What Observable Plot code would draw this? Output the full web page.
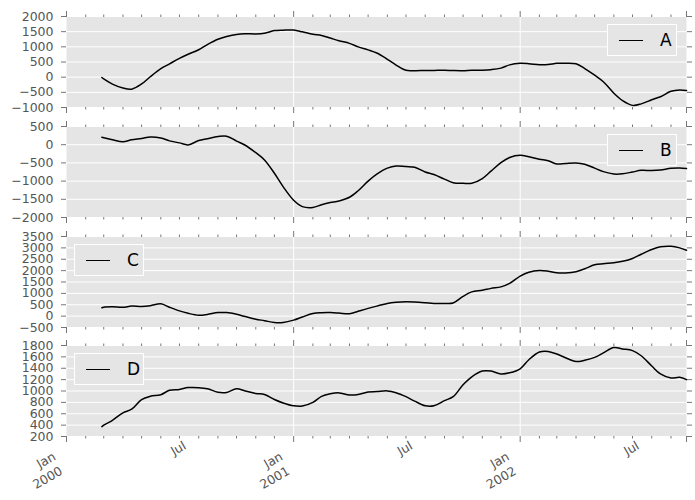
<!DOCTYPE html>
<html><head><meta charset="utf-8">
<script src="https://cdn.jsdelivr.net/npm/d3@7"></script>
<script src="https://cdn.jsdelivr.net/npm/@observablehq/plot@0.6"></script>
<style>
body{margin:0;background:white;}
#chart{position:relative;width:695px;height:500px;font-family:"DejaVu Sans",sans-serif;}
#chart svg{position:absolute;left:0;}
.legend{position:absolute;box-sizing:border-box;background:#E5E5E5;border:1px solid #fff;}
.legend .ln{position:absolute;height:0;border-top:1.5px solid #000;}
.legend .lb{position:absolute;font-size:17px;line-height:17px;color:#000;font-family:"DejaVu Sans",sans-serif;}
</style></head><body><div id="chart"></div>
<script>
const dates = ["2000-02-27","2000-03-01","2000-03-15","2000-04-01","2000-04-15","2000-05-01","2000-05-15","2000-06-01","2000-06-15","2000-07-01","2000-07-15","2000-08-01","2000-08-15","2000-09-01","2000-09-15","2000-10-01","2000-10-15","2000-11-01","2000-11-15","2000-12-01","2000-12-15",
"2001-01-01","2001-01-15","2001-02-01","2001-02-15","2001-03-01","2001-03-15","2001-04-01","2001-04-15","2001-05-01","2001-05-15","2001-06-01","2001-06-15","2001-07-01","2001-07-15","2001-08-01","2001-08-15","2001-09-01","2001-09-15","2001-10-01","2001-10-15","2001-11-01","2001-11-15","2001-12-01","2001-12-15",
"2002-01-01","2002-01-15","2002-02-01","2002-02-15","2002-03-01","2002-03-15","2002-04-01","2002-04-15","2002-05-01","2002-05-15","2002-06-01","2002-06-15","2002-07-01","2002-07-15","2002-08-01","2002-08-15","2002-09-01","2002-09-15","2002-09-26"];

const seriesA = [-10,-60,-230,-360,-395,-225,15,280,440,620,755,905,1075,1250,1340,1410,1430,1425,1450,1535,1550,
1555,1495,1415,1375,1290,1200,1115,1000,900,795,590,400,225,215,220,222,228,218,215,230,230,248,298,405,
455,445,412,418,455,460,440,285,65,-150,-530,-775,-930,-880,-745,-645,-465,-420,-440];
const seriesB = [204,190,135,80,136,170,212,185,105,50,-5,115,165,225,235,100,-15,-220,-420,-785,-1150,
-1525,-1700,-1725,-1650,-1590,-1545,-1444,-1265,-1000,-810,-645,-585,-600,-618,-748,-820,-945,-1045,-1060,-1060,-930,-725,-490,-350,
-290,-330,-400,-440,-530,-515,-500,-535,-645,-740,-806,-800,-750,-705,-710,-695,-650,-640,-657];
const seriesC = [370,395,410,390,440,426,460,544,390,230,125,40,75,155,155,80,-20,-135,-200,-280,-280,
-176,-40,115,150,155,135,103,215,340,440,555,605,630,620,590,559,560,580,870,1065,1135,1220,1285,1440,
1760,1930,2005,1975,1905,1900,1955,2080,2260,2305,2343,2410,2535,2720,2930,3045,3070,3000,2896];
const seriesD = [374,400,485,615,680,850,907,935,1013,1028,1060,1059,1040,978,975,1038,1000,955,940,850,790,
740,735,800,905,950,967,930,938,982,990,1002,970,900,822,740,740,830,900,1110,1250,1350,1350,1300,1320,
1390,1550,1685,1696,1650,1585,1518,1540,1591,1670,1765,1740,1710,1620,1440,1300,1228,1240,1199];

const names = ["A","B","C","D"];
const yTicksA = [-1000,-500,0,500,1000,1500,2000];
const yTicksB = [-2000,-1500,-1000,-500,0,500];
const yTicksC = [-500,0,500,1000,1500,2000,2500,3000,3500];
const yTicksD = [200,400,600,800,1000,1200,1400,1600,1800];

const xDomain = ["2000-01-01","2002-09-26"];
const majorTickDates = ["2000-01-01","2001-01-01","2002-01-01","2002-09-26"];
const gridDates = ["2001-01-01","2002-01-01"];
const majorLabelDates = ["2000-01-01","2001-01-01","2002-01-01"];
const majorLabelMonth = ["Jan","Jan","Jan"];
const majorLabelYear = ["2000","2001","2002"];
const minorLabelDates = ["2000-07-01","2001-07-01","2002-07-01"];
const minorLabels = ["Jul","Jul","Jul"];

const toDate = s => new Date(s + "T00:00:00Z");
const xd = xDomain.map(toDate);
const minorTicks = d3.utcMonth.range(xd[0], xd[1]).filter(d => d.getUTCMonth() !== 0);
const majorTicks = majorTickDates.map(toDate);
const gridTicks = gridDates.map(toDate);
const majorLabelData = majorLabelDates.map((d,i)=>({date:toDate(d), month:majorLabelMonth[i], year:majorLabelYear[i]}));
const minorLabelData = minorLabelDates.map((d,i)=>({date:toDate(d), label:minorLabels[i]}));

const panels = [
  {name:names[0], values:seriesA, domain:[-1000,2000], ticks:yTicksA, top:16, legend:"right"},
  {name:names[1], values:seriesB, domain:[-2000,500], ticks:yTicksB, top:126, legend:"right"},
  {name:names[2], values:seriesC, domain:[-500,3500], ticks:yTicksC, top:236, legend:"left"},
  {name:names[3], values:seriesD, domain:[200,1800], ticks:yTicksD, top:345, legend:"left"}
];

const chart = document.getElementById("chart");
const PH = 91, MT = 9;

panels.forEach((p, k) => {
  const isLast = k === panels.length - 1;
  const mb = isLast ? 64 : 9;
  const data = dates.map((d,i)=>({date:toDate(d), v:p.values[i]}));
  const marks = [
    Plot.frame({fill:"#E5E5E5", stroke:"none"}),
    Plot.gridY(p.ticks, {stroke:"white", strokeOpacity:1, strokeWidth:1}),
    Plot.gridX(gridTicks, {stroke:"white", strokeOpacity:1, strokeWidth:1}),
    Plot.axisY(p.ticks, {anchor:"left", tickSize:5, tickPadding:8, tickFormat:d3.format("d"), label:null, stroke:"#777", fill:"#555", fontSize:12.5}),
    Plot.axisY(p.ticks, {anchor:"right", tickSize:5, tickFormat:()=>"", label:null, stroke:"#777"}),
    Plot.axisX(minorTicks, {anchor:"bottom", tickSize:2.5, tickFormat:()=>"", label:null, stroke:"#777"}),
    Plot.axisX(minorTicks, {anchor:"top", tickSize:2.5, tickFormat:()=>"", label:null, stroke:"#777"}),
    Plot.axisX(majorTicks, {anchor:"bottom", tickSize:6, tickFormat:()=>"", label:null, stroke:"#777"}),
    Plot.axisX(majorTicks, {anchor:"top", tickSize:6, tickFormat:()=>"", label:null, stroke:"#777"}),
    Plot.line(data, {x:"date", y:"v", stroke:"black", strokeWidth:1.5, curve:"catmull-rom"})
  ];
  if (isLast) {
    marks.push(Plot.text(majorLabelData, {x:"date", text:"month", frameAnchor:"bottom", textAnchor:"end", lineAnchor:"middle", rotate:-30, dx:-12, dy:19, fill:"#555", fontSize:12.5}));
    marks.push(Plot.text(majorLabelData, {x:"date", text:"year", frameAnchor:"bottom", textAnchor:"end", lineAnchor:"middle", rotate:-30, dx:-5, dy:33.5, fill:"#555", fontSize:12.5}));
    marks.push(Plot.text(minorLabelData, {x:"date", text:"label", frameAnchor:"bottom", textAnchor:"middle", lineAnchor:"middle", rotate:-30, dx:-1, dy:12, fill:"#555", fontSize:12.5}));
  }
  const svg = Plot.plot({
    width:695, height:MT+PH+mb, marginTop:MT, marginBottom:mb, marginLeft:66, marginRight:9,
    style:{fontFamily:"DejaVu Sans", fontSize:"12.5px", color:"#555", background:"transparent", overflow:"visible"},
    x:{type:"utc", domain:xd},
    y:{domain:p.domain},
    marks
  });
  svg.style.top = (p.top - MT) + "px";
  chart.appendChild(svg);

  // legend
  const lg = document.createElement("div");
  lg.className = "legend";
  const left = p.legend === "right" ? 607 : 74;
  lg.style.left = left + "px";
  lg.style.top = (p.top + 7.5) + "px";
  lg.style.width = "70px";
  lg.style.height = "32px";
  const ln = document.createElement("div");
  ln.className = "ln";
  ln.style.left = "11px"; ln.style.width = "24px"; ln.style.top = "15px";
  const lb = document.createElement("div");
  lb.className = "lb";
  lb.style.left = "52px"; lb.style.top = "7px";
  lb.textContent = p.name;
  lg.appendChild(ln); lg.appendChild(lb);
  chart.appendChild(lg);
});
</script></body></html>
